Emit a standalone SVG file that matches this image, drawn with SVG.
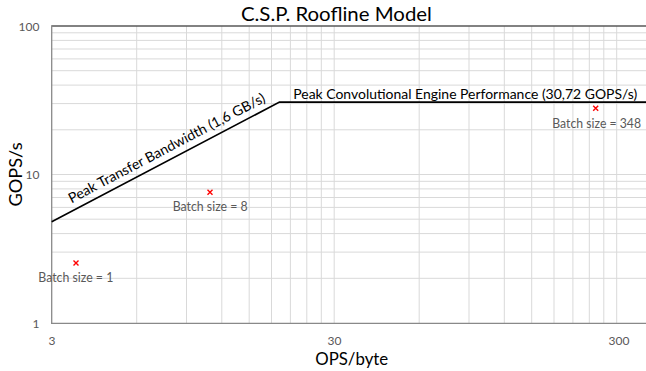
<svg xmlns="http://www.w3.org/2000/svg" width="646" height="371" viewBox="0 0 646 371">
<style>
.grid line{stroke:#d9d9d9;stroke-width:1}
.tick{font-family:Lato,"Liberation Sans",Arial,sans-serif;font-size:12px;fill:#595959}
.lbl{font-family:Lato,"Liberation Sans",Arial,sans-serif;font-size:13px;fill:#595959}
.ttl{font-family:Lato,"Liberation Sans",Arial,sans-serif;fill:#000}
.mk{stroke:#ff0000;stroke-width:1.4}
</style>
<rect width="646" height="371" fill="#fff"/>
<g id="gridlines" class="grid">
<line x1="136.7" y1="26" x2="136.7" y2="323"/>
<line x1="186.5" y1="26" x2="186.5" y2="323"/>
<line x1="221.8" y1="26" x2="221.8" y2="323"/>
<line x1="249.2" y1="26" x2="249.2" y2="323"/>
<line x1="271.5" y1="26" x2="271.5" y2="323"/>
<line x1="290.4" y1="26" x2="290.4" y2="323"/>
<line x1="306.8" y1="26" x2="306.8" y2="323"/>
<line x1="321.3" y1="26" x2="321.3" y2="323"/>
<line x1="334.2" y1="26" x2="334.2" y2="323"/>
<line x1="419.2" y1="26" x2="419.2" y2="323"/>
<line x1="469" y1="26" x2="469" y2="323"/>
<line x1="504.3" y1="26" x2="504.3" y2="323"/>
<line x1="531.7" y1="26" x2="531.7" y2="323"/>
<line x1="554" y1="26" x2="554" y2="323"/>
<line x1="572.9" y1="26" x2="572.9" y2="323"/>
<line x1="589.3" y1="26" x2="589.3" y2="323"/>
<line x1="603.8" y1="26" x2="603.8" y2="323"/>
<line x1="616.7" y1="26" x2="616.7" y2="323"/>
<line x1="51.7" y1="278.3" x2="646" y2="278.3"/>
<line x1="51.7" y1="252.1" x2="646" y2="252.1"/>
<line x1="51.7" y1="233.6" x2="646" y2="233.6"/>
<line x1="51.7" y1="219.2" x2="646" y2="219.2"/>
<line x1="51.7" y1="207.4" x2="646" y2="207.4"/>
<line x1="51.7" y1="197.5" x2="646" y2="197.5"/>
<line x1="51.7" y1="188.9" x2="646" y2="188.9"/>
<line x1="51.7" y1="181.3" x2="646" y2="181.3"/>
<line x1="51.7" y1="174.5" x2="646" y2="174.5"/>
<line x1="51.7" y1="129.8" x2="646" y2="129.8"/>
<line x1="51.7" y1="103.6" x2="646" y2="103.6"/>
<line x1="51.7" y1="85.1" x2="646" y2="85.1"/>
<line x1="51.7" y1="70.7" x2="646" y2="70.7"/>
<line x1="51.7" y1="58.9" x2="646" y2="58.9"/>
<line x1="51.7" y1="49" x2="646" y2="49"/>
<line x1="51.7" y1="40.4" x2="646" y2="40.4"/>
<line x1="51.7" y1="32.8" x2="646" y2="32.8"/>
</g>
<g id="axes">
<line x1="51.7" y1="26" x2="646" y2="26" stroke="#595959" stroke-width="1.5"/>
<line x1="51.7" y1="25.3" x2="51.7" y2="323.3" stroke="#898989" stroke-width="1.3"/>
<line x1="51" y1="323.3" x2="646" y2="323.3" stroke="#898989" stroke-width="1.3"/>
</g>
<g id="tick-labels">
<text class="tick" x="39.5" y="30.5" text-anchor="end">100</text>
<text class="tick" x="39.5" y="179" text-anchor="end">10</text>
<text class="tick" x="39.5" y="328" text-anchor="end">1</text>
<text class="tick" x="52" y="344.5" text-anchor="middle">3</text>
<text class="tick" x="334.5" y="344.5" text-anchor="middle">30</text>
<text class="tick" x="619" y="344.5" text-anchor="middle">300</text>
</g>
<g id="titles">
<text class="ttl" x="336.4" y="20.5" font-size="19.5" text-anchor="middle" textLength="191" lengthAdjust="spacingAndGlyphs">C.S.P. Roofline Model</text>
<text class="ttl" x="351.7" y="365" font-size="18" text-anchor="middle" textLength="73" lengthAdjust="spacingAndGlyphs">OPS/byte</text>
<text class="ttl" transform="translate(21.5,174.5) rotate(-90)" font-size="18" text-anchor="middle" textLength="64" lengthAdjust="spacingAndGlyphs">GOPS/s</text>
</g>
<g id="roofline">
<polyline points="51.7,221.8 279.5,102.1 646,102.1" fill="none" stroke="#000" stroke-width="1.6"/>
<text class="ttl" x="293.3" y="99" font-size="14" textLength="344" lengthAdjust="spacingAndGlyphs">Peak Convolutional Engine Performance (30,72 GOPS/s)</text>
<text class="ttl" transform="translate(71.5,203.5) rotate(-27.72)" font-size="14" textLength="220" lengthAdjust="spacingAndGlyphs">Peak Transfer Bandwidth (1,6 GB/s)</text>
</g>
<g id="point-batch-1">
<path class="mk" d="M73.5,260.5 L78.5,265.5 M78.5,260.5 L73.5,265.5"/>
<text class="lbl" x="38.3" y="282" textLength="75" lengthAdjust="spacingAndGlyphs">Batch size = 1</text>
</g>
<g id="point-batch-8">
<path class="mk" d="M207.5,189.8 L212.5,194.8 M212.5,189.8 L207.5,194.8"/>
<text class="lbl" x="172.7" y="211" textLength="75" lengthAdjust="spacingAndGlyphs">Batch size = 8</text>
</g>
<g id="point-batch-348">
<path class="mk" d="M593.2,105.8 L598.2,110.8 M598.2,105.8 L593.2,110.8"/>
<text class="lbl" x="552.3" y="128" textLength="88.7" lengthAdjust="spacingAndGlyphs">Batch size = 348</text>
</g>
</svg>
